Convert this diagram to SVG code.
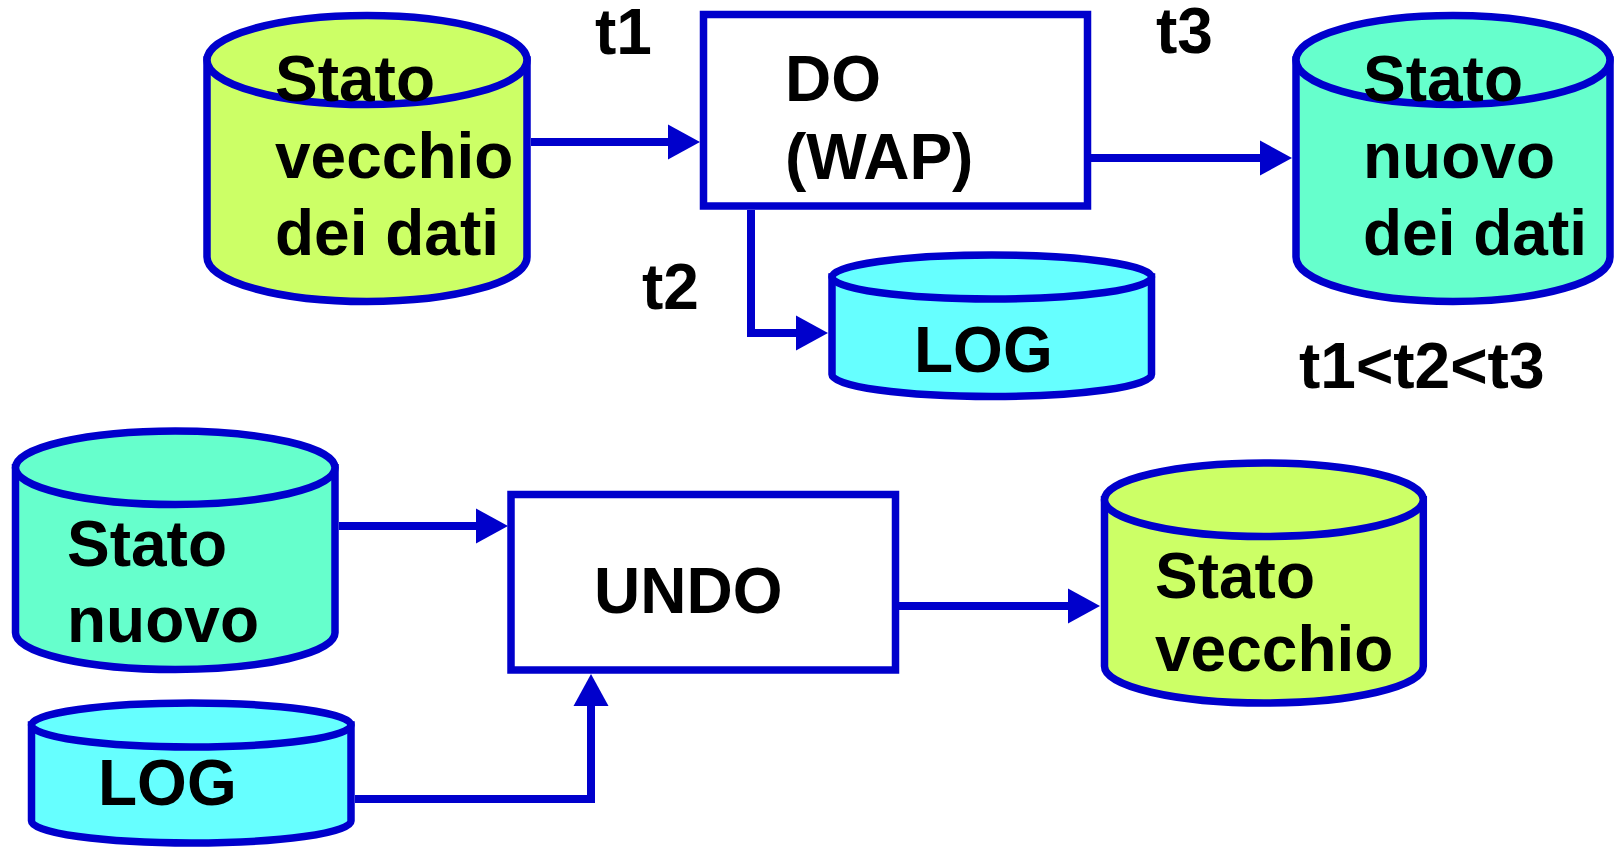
<svg xmlns="http://www.w3.org/2000/svg" width="1614" height="848" viewBox="0 0 1614 848">
<style>
.sh{stroke:#0000CC;stroke-width:7.5;}
.lime{fill:#CCFF66;}
.aqua{fill:#66FFCC;}
.cyan{fill:#66FFFF;}
.box{fill:#FFFFFF;stroke:#0000CC;stroke-width:7.5;}
.conn{fill:none;stroke:#0000CC;stroke-width:8;marker-end:url(#ah);}
text{font-family:"Liberation Sans",Arial,sans-serif;font-weight:bold;font-size:64px;fill:#000000;}
</style>
<defs>
<marker id="ah" markerUnits="userSpaceOnUse" markerWidth="34" markerHeight="36" refX="0" refY="17.5" orient="auto" overflow="visible">
<path d="M0,0 L32,17.5 L0,35 Z" fill="#0000CC"/>
</marker>
</defs>
<rect width="1614" height="848" fill="#FFFFFF"/>

<g id="connectors">
<path class="conn" d="M531,142 H668"/>
<path class="conn" d="M751,210 V333 H796"/>
<path class="conn" d="M1091,158 H1260"/>
<path class="conn" d="M339,526 H476"/>
<path class="conn" d="M355,799 H591 V706"/>
<path class="conn" d="M899,606 H1068"/>
</g>

<g id="stato-vecchio-dei-dati">
<path class="sh lime" d="M207,60 V257 A160,44.5 0 0 0 527,257 V60 Z"/>
<ellipse class="sh lime" cx="367" cy="60" rx="160" ry="44.5"/>
<text x="275" y="101">Stato</text>
<text x="275" y="178">vecchio</text>
<text x="275" y="255">dei dati</text>
</g>

<g id="do-wap">
<rect class="box" x="703.5" y="14.5" width="384" height="191.5"/>
<text x="785" y="101">DO</text>
<text x="785" y="179">(WAP)</text>
</g>

<g id="log-top">
<path class="sh cyan" d="M832,277 V374.5 A159.75,22 0 0 0 1151.5,374.5 V277 Z"/>
<ellipse class="sh cyan" cx="991.75" cy="277" rx="159.75" ry="22"/>
<text x="914" y="372">LOG</text>
</g>

<g id="stato-nuovo-dei-dati">
<path class="sh aqua" d="M1296,60 V257 A157,44.5 0 0 0 1610,257 V60 Z"/>
<ellipse class="sh aqua" cx="1453" cy="60" rx="157" ry="44.5"/>
<text x="1363" y="101">Stato</text>
<text x="1363" y="178">nuovo</text>
<text x="1363" y="255">dei dati</text>
</g>

<g id="labels">
<text x="595" y="54">t1</text>
<text x="642" y="309">t2</text>
<text x="1156" y="53">t3</text>
<text x="1299" y="388">t1&lt;t2&lt;t3</text>
</g>

<g id="stato-nuovo">
<path class="sh aqua" d="M15.5,467.75 V632.75 A159.75,36.75 0 0 0 335,632.75 V467.75 Z"/>
<ellipse class="sh aqua" cx="175.25" cy="467.75" rx="159.75" ry="36.75"/>
<text x="67" y="566">Stato</text>
<text x="67" y="642">nuovo</text>
</g>

<g id="log-bottom">
<path class="sh cyan" d="M31.5,725 V821 A159.75,22 0 0 0 351,821 V725 Z"/>
<ellipse class="sh cyan" cx="191.25" cy="725" rx="159.75" ry="22"/>
<text x="98" y="805">LOG</text>
</g>

<g id="undo">
<rect class="box" x="511" y="494.5" width="384.5" height="175.5"/>
<text x="594" y="613">UNDO</text>
</g>

<g id="stato-vecchio">
<path class="sh lime" d="M1104.5,499.75 V666.25 A159.4,36.75 0 0 0 1423.3,666.25 V499.75 Z"/>
<ellipse class="sh lime" cx="1263.9" cy="499.75" rx="159.4" ry="36.75"/>
<text x="1155" y="598">Stato</text>
<text x="1155" y="671">vecchio</text>
</g>
</svg>
